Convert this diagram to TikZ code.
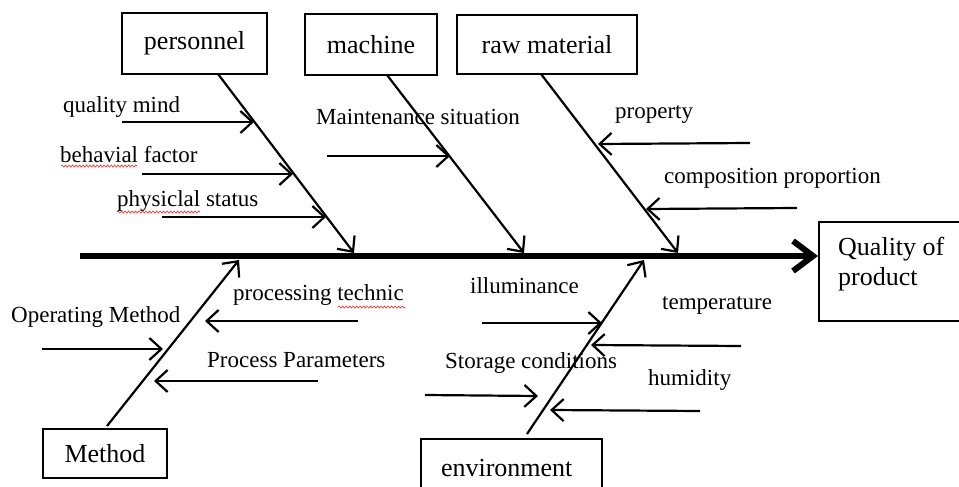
\documentclass[tikz,border=0pt]{standalone}
\usepackage{fontspec}
\setmainfont{Liberation Serif}
\usetikzlibrary{arrows.meta}
\usetikzlibrary{decorations.pathmorphing}
\tikzset{
        % Cause boxes
        node_cause/.style={draw=black, line width=2pt, rectangle, inner sep=0pt, font=\fontsize{26}{30}\selectfont},
        % Effect box
        node_effect/.style={node_cause, anchor=north west},
        % Effect text
        node_effect_text/.style={anchor=west, align=left, inner sep=0pt, font=\fontsize{26}{30}\selectfont},
        % Factor labels
        node_factor/.style={anchor=west, inner sep=0pt, font=\fontsize{23}{27}\selectfont},
        % Spine
        arrow_spine/.style={line width=6pt, -{Straight Barb[length=20pt, width=30pt]}},
        % Bones
        arrow_bone/.style={line width=2.2pt, -{Straight Barb[length=12pt, width=22pt]}},
        % Small arrows
        arrow_sub/.style={line width=2.2pt, -{Straight Barb[length=12pt, width=22pt]}},
        % Spell check marks
        mark_spell/.style={red, line width=0.5pt, decorate, decoration={snake, amplitude=1.1pt, segment length=3.5pt}}
}

\begin{document}
\begin{tikzpicture}[x=1pt, y=-1pt]
        \useasboundingbox (0,0) rectangle (959,487);

        % boxes
        \node[node_cause, minimum width=145, minimum height=61] (pers) at (194.5,43.5) {personnel};
        \node[node_cause, minimum width=132, minimum height=61] (mach) at (371,44.5) {machine};
        \node[node_cause, minimum width=180, minimum height=59] (raw) at (547,44.5) {raw material};
        \node[node_cause, minimum width=124, minimum height=49] (meth) at (105,453.5) {Method};
        \node[node_cause, minimum width=181, minimum height=58, anchor=north west,
              text width=141pt, align=left, inner xsep=20pt] (env) at (420,438) {environment};
        \node[node_effect, minimum width=150, minimum height=99] (eff) at (818,221) {};
        \node[node_effect_text] (efftext) at (838,264) {Quality of\\product};

        % spine
        \coordinate (s0) at (80,256);
        \draw[arrow_spine] (s0) -- (s0 -| eff.west);

        % bones
        \coordinate (pb0) at (218,74);  \coordinate (pb1) at (354,253);
        \coordinate (mb0) at (387,75);  \coordinate (mb1) at (524,253);
        \coordinate (rb0) at (541,74);  \coordinate (rb1) at (678,253);
        \coordinate (tb0) at (107,426); \coordinate (tb1) at (239,260);
        \coordinate (eb0) at (527,434); \coordinate (eb1) at (644,260);
        \draw[arrow_bone] (pb0) -- (pb1);
        \draw[arrow_bone] (mb0) -- (mb1);
        \draw[arrow_bone] (rb0) -- (rb1);
        \draw[arrow_bone] (tb0) -- (tb1);
        \draw[arrow_bone] (eb0) -- (eb1);

        % personnel
        \node[node_factor] (qm) at (63,107) {quality mind};
        \node[node_factor] (bf) at (60,155) {behavial factor};
        \node[node_factor] (ps) at (117,201) {physiclal status};
        \coordinate (qm0) at (122,122); \coordinate (qm1) at (254,122);
        \coordinate (bf0) at (142,174); \coordinate (bf1) at (293,174);
        \coordinate (ps0) at (162,217); \coordinate (ps1) at (326,217);
        \draw[arrow_sub] (qm0) -- (qm1);
        \draw[arrow_sub] (bf0) -- (bf1);
        \draw[arrow_sub] (ps0) -- (ps1);

        % machine
        \node[node_factor] (ms) at (316,117) {Maintenance situation};
        \coordinate (ms0) at (327,156); \coordinate (ms1) at (450,156);
        \draw[arrow_sub] (ms0) -- (ms1);

        % raw material
        \node[node_factor] (pr) at (615,115) {property};
        \node[node_factor] (cp) at (664,178) {composition proportion};
        \coordinate (pr0) at (750,143); \coordinate (pr1) at (598,144);
        \coordinate (cp0) at (797,208); \coordinate (cp1) at (646,209);
        \draw[arrow_sub] (pr0) -- (pr1);
        \draw[arrow_sub] (cp0) -- (cp1);

        % method
        \node[node_factor] (om) at (11,317) {Operating Method};
        \node[node_factor] (pt) at (233,295) {processing technic};
        \node[node_factor] (pp) at (207,360) {Process Parameters};
        \coordinate (om0) at (42,349);  \coordinate (om1) at (163,349);
        \coordinate (pt0) at (358,321); \coordinate (pt1) at (205,321);
        \coordinate (pp0) at (318,381); \coordinate (pp1) at (154,381);
        \draw[arrow_sub] (om0) -- (om1);
        \draw[arrow_sub] (pt0) -- (pt1);
        \draw[arrow_sub] (pp0) -- (pp1);

        % environment
        \node[node_factor] (il) at (470,286) {illuminance};
        \node[node_factor] (te) at (662,305) {temperature};
        \node[node_factor] (sc) at (445,363) {Storage conditions};
        \node[node_factor] (hu) at (648,380) {humidity};
        \coordinate (il0) at (482,323); \coordinate (il1) at (602,323);
        \coordinate (te0) at (741,346); \coordinate (te1) at (591,345);
        \coordinate (sc0) at (425,395); \coordinate (sc1) at (538,396);
        \coordinate (hu0) at (700,411); \coordinate (hu1) at (550,410);
        \draw[arrow_sub] (il0) -- (il1);
        \draw[arrow_sub] (te0) -- (te1);
        \draw[arrow_sub] (sc0) -- (sc1);
        \draw[arrow_sub] (hu0) -- (hu1);

        % spell check marks
        \draw[mark_spell] (61,166) -- (137,166);
        \draw[mark_spell] (117,212) -- (200,212);
        \draw[mark_spell] (338,307) -- (405,307);
\end{tikzpicture}
\end{document}
